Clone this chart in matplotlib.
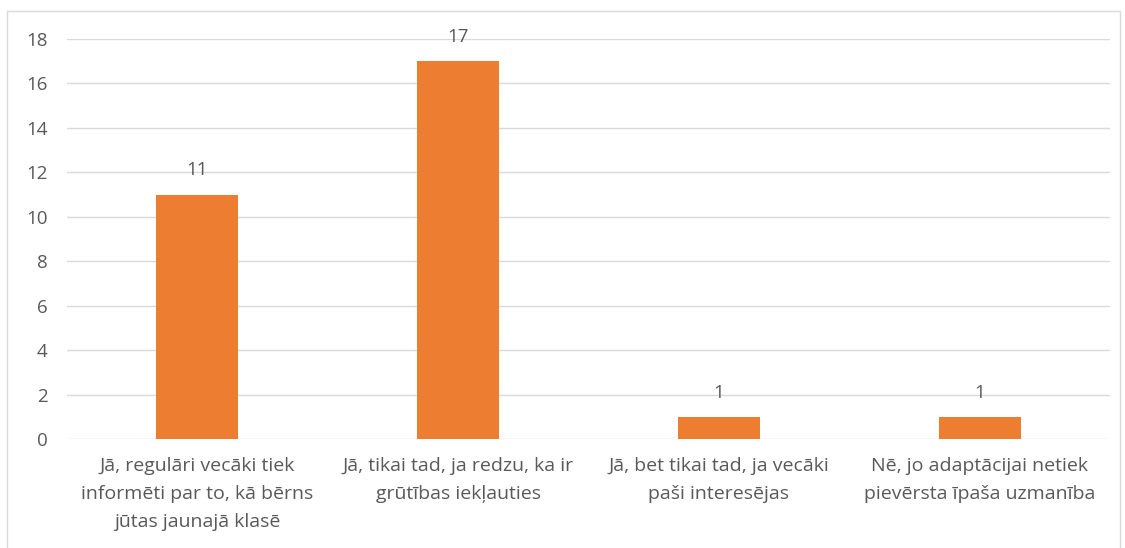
# bar chart of survey answers (adaptation in new class)
import numpy as np
import matplotlib.pyplot as plt
from matplotlib.patches import Rectangle

categories = ['Jā, regulāri vecāki tiek\ninformēti par to, kā bērns\njūtas jaunajā klasē',
              'Jā, tikai tad, ja redzu, ka ir\ngrūtības iekļauties',
              'Jā, bet tikai tad, ja vecāki\npaši interesējas',
              'Nē, jo adaptācijai netiek\npievērsta īpaša uzmanība']
values = [11, 17, 1, 1]
yticks = [0, 2, 4, 6, 8, 10, 12, 14, 16, 18]

plt.rcParams['font.family'] = ['Open Sans', 'DejaVu Sans']
txt = '#595959'
grid = '#d9d9d9'

W, H = 1125, 548
fig = plt.figure(figsize=(W/100, H/100), dpi=100)
ax = fig.add_axes([67/W, (H-439)/H, (1110-67)/W, 400/H])

# outer chart border
fig.patches.append(Rectangle((7/W, -0.05), (1120-7)/W, (H-11)/H + 0.05,
                             transform=fig.transFigure, fill=False,
                             edgecolor=grid, linewidth=1))

x = np.arange(len(values))
bars = ax.bar(x, values, width=0.315, color='#ED7D31', zorder=3)

for xi, v in zip(x, values):
    ax.annotate(str(v), (xi, v), xytext=(0, 11), textcoords='offset points',
                ha='center', va='bottom', fontsize=13.5, color=txt)

ax.set_xlim(-0.5, len(values)-0.5)
ax.set_ylim(0, 18)
ax.set_yticks(yticks)
ax.set_xticks(x)
ax.set_xticklabels(categories, fontsize=14, color=txt, linespacing=1.72)
ax.tick_params(axis='y', labelsize=13.5, labelcolor=txt, length=0, pad=14)
ax.tick_params(axis='x', length=0, pad=13)
ax.grid(axis='y', color=grid, linewidth=1, zorder=0)
for s in ax.spines.values():
    s.set_visible(False)

plt.savefig('out.png', dpi=100)
